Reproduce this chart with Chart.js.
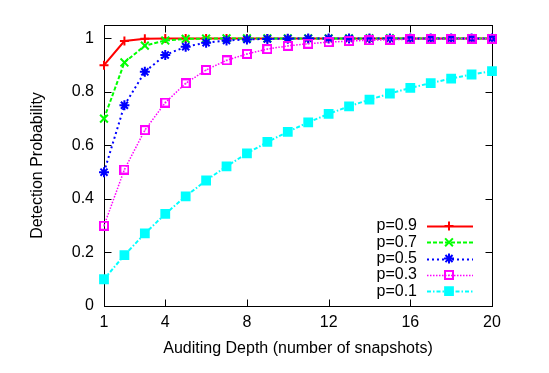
<!DOCTYPE html>
<html>
<head>
<meta charset="utf-8">
<script src="https://cdn.jsdelivr.net/npm/chart.js@4.4.0/dist/chart.umd.min.js"></script>
<style>
  html, body { margin: 0; padding: 0; background: #fff; }
  #grafica { display: block; }
</style>
</head>
<body>
<canvas id="grafica" width="549" height="373"></canvas>
<script>
// datos
const depth = [1, 2, 3, 4, 5, 6, 7, 8, 9, 10, 11, 12, 13, 14, 15, 16, 17, 18, 19, 20];
const p09 = [0.9, 0.99, 0.999, 1, 1, 1, 1, 1, 1, 1, 1, 1, 1, 1, 1, 1, 1, 1, 1, 1];
const p07 = [0.7, 0.91, 0.973, 0.992, 0.998, 0.999, 1, 1, 1, 1, 1, 1, 1, 1, 1, 1, 1, 1, 1, 1];
const p05 = [0.5, 0.75, 0.875, 0.938, 0.969, 0.984, 0.992, 0.996, 0.998, 0.999, 1, 1, 1, 1, 1, 1, 1, 1, 1, 1];
const p03 = [0.3, 0.51, 0.657, 0.76, 0.832, 0.882, 0.918, 0.942, 0.96, 0.972, 0.98, 0.986, 0.99, 0.993, 0.995, 0.997, 0.998, 0.998, 0.999, 0.999];
const p01 = [0.1, 0.19, 0.271, 0.344, 0.41, 0.469, 0.522, 0.57, 0.613, 0.651, 0.686, 0.718, 0.746, 0.771, 0.794, 0.815, 0.833, 0.85, 0.865, 0.878];
const seriesLabels = ["p=0.9", "p=0.7", "p=0.5", "p=0.3", "p=0.1"];
const xTicks = [1, 4, 8, 12, 16, 20];
const yTicks = [0, 0.2, 0.4, 0.6, 0.8, 1];

const fuente = { family: "'Liberation Sans', Arial, Helvetica, sans-serif", size: 16 };

// cuadrado abierto con punto al centro (estilo gnuplot)
function cuadroAbierto() {
  const c = document.createElement("canvas");
  c.width = 10; c.height = 10;
  const g = c.getContext("2d");
  g.strokeStyle = "#ff00ff";
  g.lineWidth = 2;
  g.strokeRect(1, 1, 8, 8);
  g.fillStyle = "#ff00ff";
  g.fillRect(4.5, 4.5, 1.2, 1.2);
  return c;
}

function puntos(vals) {
  return depth.map((d, i) => ({ x: d, y: vals[i] }));
}

const series = [
  { label: seriesLabels[0], data: puntos(p09), borderColor: "#ff0000", backgroundColor: "#ff0000", pointStyle: "cross", pointRadius: 4.5, borderDash: [], borderWidth: 2 },
  { label: seriesLabels[1], data: puntos(p07), borderColor: "#00ff00", backgroundColor: "#00ff00", pointStyle: "crossRot", pointRadius: 5.5, borderDash: [4, 2], borderWidth: 2 },
  { label: seriesLabels[2], data: puntos(p05), borderColor: "#0000ff", backgroundColor: "#0000ff", pointStyle: "star", pointRadius: 5, borderDash: [2, 3], borderWidth: 2 },
  { label: seriesLabels[3], data: puntos(p03), borderColor: "#ff00ff", backgroundColor: "#ff00ff", pointStyle: cuadroAbierto(), pointRadius: 5, borderDash: [1.5, 1.5], borderWidth: 1.5 },
  { label: seriesLabels[4], data: puntos(p01), borderColor: "#00ffff", backgroundColor: "#00ffff", pointStyle: "rect", pointRadius: 5.5, borderDash: [4, 2, 1.5, 2], borderWidth: 2 },
];

// gnuplot dibuja la ultima serie encima
series.forEach((s, i) => {
  s.order = series.length - i;
  s.pointBorderWidth = 2;
  s.pointHoverRadius = s.pointRadius;
  s.tension = 0;
  s.fill = false;
  s.clip = false;
});

// marco y marcas hacia dentro
const marco = {
  id: "marco",
  beforeDatasetsDraw(chart) {
    const { ctx, chartArea: a, scales } = chart;
    ctx.save();
    ctx.strokeStyle = "#000";
    ctx.lineWidth = 1;
    const l = Math.round(a.left) + 0.5, r = Math.round(a.right) + 0.5;
    const t = Math.round(a.top) + 0.5, b = Math.round(a.bottom) + 0.5;
    ctx.strokeRect(l, t, r - l, b - t);
    ctx.beginPath();
    xTicks.forEach((v) => {
      const px = Math.round(scales.x.getPixelForValue(v)) + 0.5;
      ctx.moveTo(px, b); ctx.lineTo(px, b - 7);
      ctx.moveTo(px, t); ctx.lineTo(px, t + 7);
    });
    yTicks.forEach((v) => {
      const py = Math.round(scales.y.getPixelForValue(v)) + 0.5;
      ctx.moveTo(l, py); ctx.lineTo(l + 7, py);
      ctx.moveTo(r, py); ctx.lineTo(r - 7, py);
    });
    ctx.stroke();
    ctx.restore();
  },
};

// leyenda dentro del grafico, abajo a la derecha
const leyenda = {
  id: "leyenda",
  afterDatasetsDraw(chart) {
    const { ctx, chartArea: a } = chart;
    ctx.save();
    ctx.font = "16px " + fuente.family;
    ctx.textAlign = "right";
    ctx.textBaseline = "middle";
    chart.data.datasets.forEach((ds, i) => {
      const yy = a.bottom - 80 + i * 16.3;
      ctx.fillStyle = "#000";
      ctx.fillText(ds.label, a.right - 75, yy);
      ctx.strokeStyle = ds.borderColor;
      ctx.lineWidth = ds.borderWidth;
      ctx.setLineDash(ds.borderDash);
      ctx.beginPath();
      ctx.moveTo(a.right - 65, Math.round(yy) + 0.5);
      ctx.lineTo(a.right - 19, Math.round(yy) + 0.5);
      ctx.stroke();
      ctx.setLineDash([]);
      ctx.fillStyle = ds.backgroundColor;
      ctx.lineWidth = ds.pointBorderWidth;
      Chart.helpers.drawPoint(ctx, { pointStyle: ds.pointStyle, radius: ds.pointRadius, rotation: 0, borderWidth: ds.pointBorderWidth }, a.right - 43, yy);
    });
    ctx.restore();
  },
};

new Chart(document.getElementById("grafica"), {
  type: "line",
  data: { datasets: series },
  options: {
    responsive: false,
    animation: false,
    layout: { padding: { top: 25, right: 57, left: 0, bottom: 0 } },
    plugins: { legend: { display: false }, tooltip: { enabled: false } },
    scales: {
      x: {
        type: "linear",
        min: 1,
        max: 20,
        afterBuildTicks: (s) => { s.ticks = xTicks.map((v) => ({ value: v })); },
        afterFit: (s) => { s.height = 67; },
        grid: { display: false, drawTicks: false },
        border: { display: false },
        ticks: { padding: 7, autoSkip: false, maxRotation: 0, font: fuente, color: "#000", callback: (v) => String(v) },
        title: { display: true, text: "Auditing Depth (number of snapshots)", font: fuente, color: "#000", padding: { top: 0, bottom: 15 } },
      },
      y: {
        min: 0,
        max: 1.05,
        afterBuildTicks: (s) => { s.ticks = yTicks.map((v) => ({ value: v })); },
        afterFit: (s) => { s.width = 104; },
        grid: { display: false, drawTicks: false },
        border: { display: false },
        ticks: { padding: 10, font: fuente, color: "#000", callback: (v) => String(v) },
        title: { display: true, text: "Detection Probability", font: fuente, color: "#000", padding: { top: 28, bottom: 0 } },
      },
    },
  },
  plugins: [marco, leyenda],
});
</script>
</body>
</html>
